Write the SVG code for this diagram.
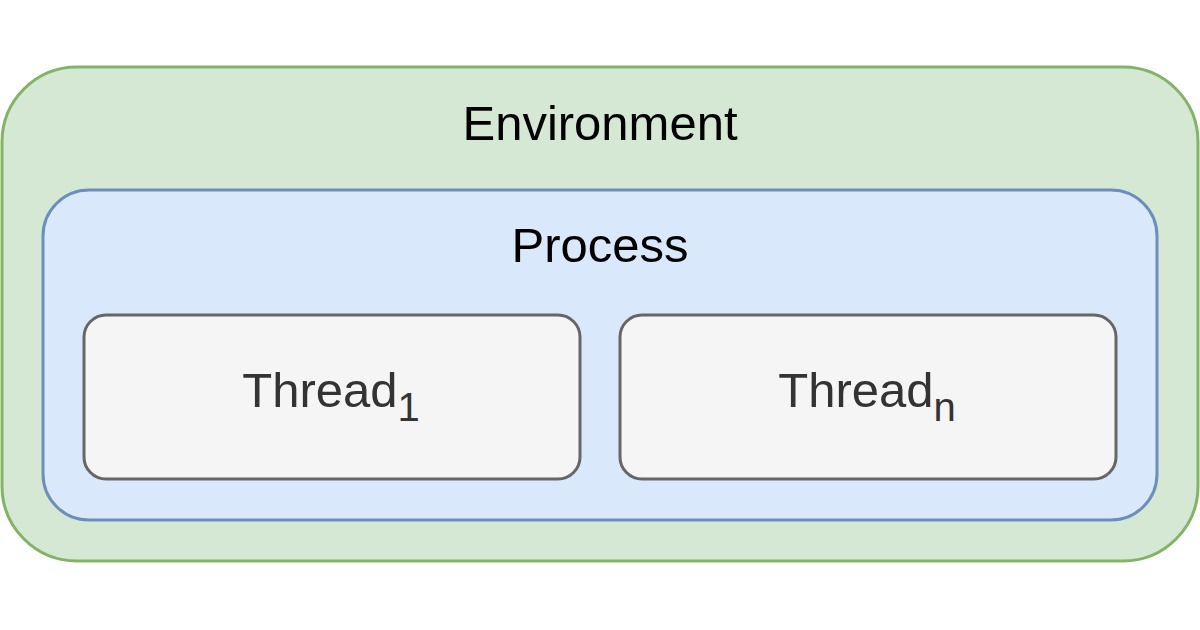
<svg xmlns="http://www.w3.org/2000/svg" width="1200" height="630" viewBox="0 0 1200 630">
<style>
.lbl{font-family:"Liberation Sans",Arial,sans-serif;font-size:49px;text-anchor:middle}
.sub{font-size:40px}
</style>
<rect width="1200" height="630" fill="#ffffff"/>
<g id="environment">
<rect x="2" y="67" width="1196" height="494" rx="75" ry="75" fill="#d5e8d4" stroke="#82b366" stroke-width="3"/>
<text class="lbl" x="600" y="140" fill="#000000">Environment</text>
</g>
<g id="process">
<rect x="43" y="190" width="1114" height="330" rx="46" ry="46" fill="#dae8fc" stroke="#6c8ebf" stroke-width="3"/>
<text class="lbl" x="600" y="262" fill="#000000">Process</text>
</g>
<g id="thread1">
<rect x="84" y="315" width="496" height="164" rx="22" ry="22" fill="#f5f5f5" stroke="#666666" stroke-width="3"/>
<text class="lbl" x="331" y="407" fill="#333333">Thread<tspan class="sub" dy="14">1</tspan></text>
</g>
<g id="threadn">
<rect x="620" y="315" width="496" height="164" rx="22" ry="22" fill="#f5f5f5" stroke="#666666" stroke-width="3"/>
<text class="lbl" x="867" y="407" fill="#333333">Thread<tspan class="sub" dy="14">n</tspan></text>
</g>
<g id="connectors"/>
</svg>
